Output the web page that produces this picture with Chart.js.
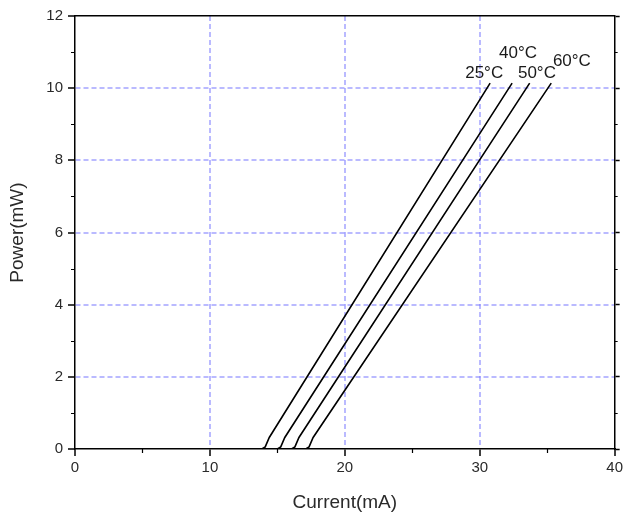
<!DOCTYPE html>
<html>
<head>
<meta charset="utf-8">
<script src="https://cdn.jsdelivr.net/npm/chart.js@4"></script>
<style>
  html, body { margin: 0; padding: 0; background: #fff; }
  #wrap { width: 626px; height: 516px; }
</style>
</head>
<body>
<div id="wrap"><canvas id="chart" width="626" height="516"></canvas></div>
<script>
// curves: current (mA) vs power (mW)
const current25 = [0, 13.85, 14.1, 14.4, 30.77];
const power25   = [0, 0, 0.06, 0.32, 10.14];
const current40 = [0, 15.0, 15.25, 15.55, 32.4];
const power40   = [0, 0, 0.06, 0.32, 10.14];
const current50 = [0, 16.05, 16.3, 16.6, 33.7];
const power50   = [0, 0, 0.06, 0.32, 10.14];
const current60 = [0, 17.1, 17.35, 17.65, 35.3];
const power60   = [0, 0, 0.06, 0.32, 10.14];

const xTicks = [0, 10, 20, 30, 40];
const yTicks = [0, 2, 4, 6, 8, 10, 12];
const xMinor = [5, 15, 25, 35];
const yMinor = [1, 3, 5, 7, 9, 11];

// curve labels, placed in data units
const labelText = ['25°C', '40°C', '50°C', '60°C'];
const labelX = [30.33, 32.84, 34.24, 36.83];
const labelY = [10.42, 10.97, 10.42, 10.75];

const toPts = (xs, ys) => xs.map((x, i) => ({ x, y: ys[i] }));

const gridBlue = 'rgba(110,110,255,0.48)';
const textCol = '#2a2a2a';
const fontFam = '"Liberation Sans", Arial, sans-serif';

function gridColor(ctx, lo, hi) {
    const v = ctx.tick ? ctx.tick.value : null;
    return (v === lo || v === hi) ? 'rgba(0,0,0,0)' : gridBlue;
}

const extras = {
    id: 'extras',
    afterDatasetsDraw(chart) {
        const { ctx, scales: { x, y } } = chart;
        const area = chart.chartArea;
        ctx.save();
        // minor ticks
        ctx.strokeStyle = '#000';
        ctx.lineWidth = 1.2;
        ctx.beginPath();
        xMinor.forEach(v => {
            const px = Math.round(x.getPixelForValue(v)) + 0.5;
            ctx.moveTo(px, area.bottom);
            ctx.lineTo(px, area.bottom + 4);
        });
        yMinor.forEach(v => {
            const py = Math.round(y.getPixelForValue(v)) + 0.5;
            ctx.moveTo(area.left, py);
            ctx.lineTo(area.left - 4, py);
            ctx.moveTo(area.right, py);
            ctx.lineTo(area.right + 3, py);
        });
        ctx.stroke();
        // curve labels
        ctx.fillStyle = '#1a1a1a';
        ctx.font = '17px ' + fontFam;
        ctx.textAlign = 'center';
        ctx.textBaseline = 'middle';
        labelText.forEach((t, i) => {
            ctx.fillText(t, x.getPixelForValue(labelX[i]), y.getPixelForValue(labelY[i]));
        });
        ctx.restore();
    }
};

const lineDs = (label, xs, ys) => ({
    label,
    data: toPts(xs, ys),
    borderColor: '#000',
    borderWidth: 1.6,
    pointRadius: 0,
    tension: 0,
    fill: false
});

const chart = new Chart(document.getElementById('chart').getContext('2d'), {
    type: 'line',
    data: {
        datasets: [
            lineDs('25°C', current25, power25),
            lineDs('40°C', current40, power40),
            lineDs('50°C', current50, power50),
            lineDs('60°C', current60, power60)
        ]
    },
    options: {
        responsive: false,
        animation: false,
        layout: { padding: 0 },
        plugins: { legend: { display: false }, tooltip: { enabled: false } },
        scales: {
            x: {
                type: 'linear',
                position: 'bottom',
                min: 0, max: 40,
                afterBuildTicks: s => { s.ticks = xTicks.map(v => ({ value: v })); },
                afterFit: s => { s.height = 67; },
                ticks: {
                    color: textCol,
                    font: { family: fontFam, size: 15 },
                    padding: 3
                },
                grid: {
                    color: c => gridColor(c, 0, 40),
                    lineWidth: 2,
                    tickColor: '#000',
                    tickWidth: 1.5,
                    tickLength: 7
                },
                border: { color: '#000', width: 1.5, dash: [5, 3] },
                title: {
                    display: true,
                    text: 'Current(mA)',
                    color: textCol,
                    font: { family: fontFam, size: 19 },
                    padding: { top: 0, bottom: 2 }
                }
            },
            x2: {
                type: 'linear',
                position: 'top',
                min: 0, max: 40,
                ticks: { display: false },
                grid: { display: false },
                border: { color: '#000', width: 1.5 },
                afterFit: s => { s.height = 16; }
            },
            y: {
                type: 'linear',
                position: 'left',
                min: 0, max: 12,
                afterBuildTicks: s => { s.ticks = yTicks.map(v => ({ value: v })); },
                afterFit: s => { s.width = 75; },
                ticks: {
                    color: textCol,
                    font: { family: fontFam, size: 15 },
                    padding: 5
                },
                grid: {
                    color: c => gridColor(c, 0, 12),
                    lineWidth: 2,
                    tickColor: '#000',
                    tickWidth: 1.5,
                    tickLength: 7
                },
                border: { color: '#000', width: 1.5, dash: [5, 3] },
                title: {
                    display: true,
                    text: 'Power(mW)',
                    color: textCol,
                    font: { family: fontFam, size: 19 },
                    padding: { top: 6, bottom: 0 }
                }
            },
            y2: {
                type: 'linear',
                position: 'right',
                min: 0, max: 12,
                afterBuildTicks: s => { s.ticks = yTicks.map(v => ({ value: v })); },
                afterFit: s => { s.width = 9; },
                ticks: { display: false },
                grid: { drawOnChartArea: false, tickColor: '#000', tickWidth: 1.5, tickLength: 5 },
                border: { color: '#000', width: 1.5 }
            }
        }
    },
    plugins: [extras]
});
</script>
</body>
</html>
